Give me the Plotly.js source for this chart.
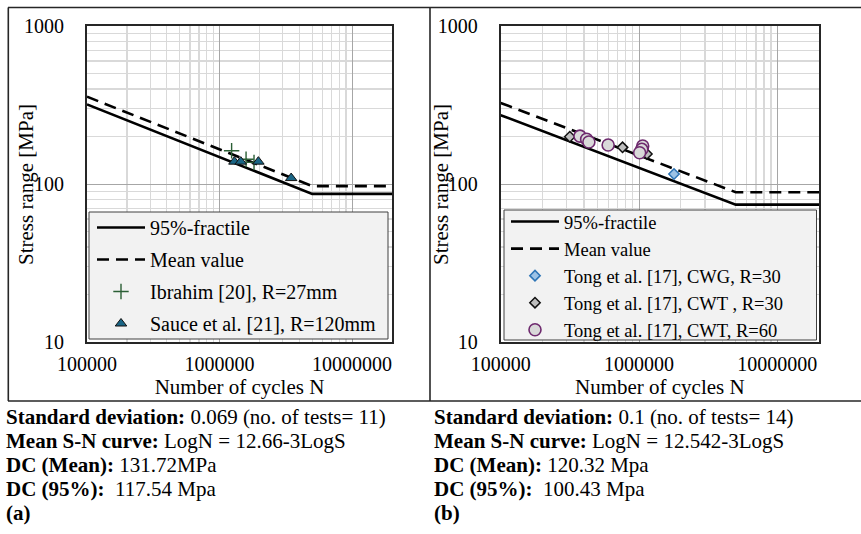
<!DOCTYPE html>
<html>
<head>
<meta charset="utf-8">
<script src="https://cdn.plot.ly/plotly-3.0.1.min.js"></script>
<style>
  html, body { margin: 0; padding: 0; background: #fff; }
  #chart { width: 861px; height: 534px; }
</style>
</head>
<body>
<div id="chart"></div>
<script>
// ---------- data ----------
const curveN = [1e5, 5e6, 2e7];

// panel (a)
const fractile95A = [319, 86.6, 86.6];
const meanA = [357, 97.0, 97.0];
const ibrahimN = [1.233e6, 1.585e6, 1.82e6];
const ibrahimS = [162.5, 143.3, 137];
const sauceN = [1.294e6, 1.446e6, 1.963e6, 3.47e6];
const sauceS = [138.5, 138.5, 138.5, 109];

// panel (b)
const fractile95B = [272.6, 74.0, 74.0];
const meanB = [326, 88.7, 88.7];
const cwg30N = [1.79e6];
const cwg30S = [115.7];
const cwt30N = [3.16e5, 7.6e5, 1.14e6];
const cwt30S = [199, 170.6, 155];
const cwt60N = [3.74e5, 4.18e5, 4.34e5, 5.98e5, 1.063e6, 1.047e6, 1.01e6];
const cwt60S = [201, 192, 184.5, 176.6, 174, 165.8, 157.8];

const xTickVals = [1e5, 1e6, 1e7];
const xTickText = ['100000', '1000000', '10000000'];
const yTickVals = [10, 100, 1000];
const yTickText = ['10', '100', '1000'];

const xTitle = 'Number of cycles N';
const yTitle = 'Stress range [MPa]';

const seriesNamesA = ['95%-fractile', 'Mean value', 'Ibrahim [20], R=27mm', 'Sauce et al. [21], R=120mm'];
const seriesNamesB = ['95%-fractile', 'Mean value', 'Tong et al. [17], CWG, R=30', 'Tong et al. [17], CWT , R=30', 'Tong et al. [17], CWT, R=60'];

const textA = [
  '<b>Standard deviation:</b> 0.069 (no. of tests= 11)',
  '<b>Mean S-N curve:</b> LogN = 12.66-3LogS',
  '<b>DC (Mean):</b> 131.72MPa',
  '<b>DC (95%):</b>  117.54 Mpa',
  '<b>(a)</b>'
];
const textB = [
  '<b>Standard deviation:</b> 0.1 (no. of tests= 14)',
  '<b>Mean S-N curve:</b> LogN = 12.542-3LogS',
  '<b>DC (Mean):</b> 120.32 Mpa',
  '<b>DC (95%):</b>  100.43 Mpa',
  '<b>(b)</b>'
];

// ---------- helpers ----------
const W = 861, H = 534;
const px = v => v / W;
const py = v => 1 - v / H;
const FONT = '"Liberation Serif", "Times New Roman", serif';

function minorVals(lo, hi) {
  const out = [];
  for (let d = lo; d < hi; d++) {
    for (let k = 2; k <= 9; k++) out.push(k * Math.pow(10, d));
  }
  return out;
}

function xAxis(domain, anchor) {
  return {
    type: 'log', range: [5, Math.log10(2e7)], domain: domain, anchor: anchor,
    tickmode: 'array', tickvals: xTickVals, ticktext: xTickText,
    ticks: '', ticklabelstandoff: 3,
    showgrid: true, gridcolor: '#a6a6a6', gridwidth: 1,
    minor: { tickmode: 'array', tickvals: minorVals(5, 8), showgrid: true, gridcolor: '#d9d9d9', gridwidth: 1.3, ticks: '' },
    showline: true, mirror: true, linecolor: '#262626', linewidth: 2,
    zeroline: false,
    tickfont: { family: FONT, size: 20, color: '#000' },
    title: { text: xTitle, font: { family: FONT, size: 21, color: '#000' }, standoff: 0 }
  };
}
function yAxis(anchor) {
  return {
    type: 'log', range: [1, 3], domain: [py(342), py(26)], anchor: anchor,
    tickmode: 'array', tickvals: yTickVals, ticktext: yTickText,
    ticks: '', ticklabelstandoff: 17,
    showgrid: true, gridcolor: '#a6a6a6', gridwidth: 1,
    minor: { tickmode: 'array', tickvals: minorVals(1, 3), showgrid: true, gridcolor: '#d9d9d9', gridwidth: 1.3, ticks: '' },
    showline: true, mirror: true, linecolor: '#262626', linewidth: 2,
    zeroline: false,
    tickfont: { family: FONT, size: 20, color: '#000' }
  };
}

const solid = { color: '#000', width: 2.6 };
const dashed = { color: '#000', width: 2.6, dash: '12px,7px' };

const traces = [
  // panel a
  { x: curveN, y: fractile95A, mode: 'lines', line: solid, name: seriesNamesA[0], xaxis: 'x', yaxis: 'y', legend: 'legend', legendgroup: 'a1' },
  { x: curveN, y: meanA, mode: 'lines', line: dashed, name: seriesNamesA[1], xaxis: 'x', yaxis: 'y', legend: 'legend', legendgroup: 'a2' },
  { x: ibrahimN, y: ibrahimS, mode: 'markers', name: seriesNamesA[2], xaxis: 'x', yaxis: 'y', legend: 'legend', legendgroup: 'a3',
    marker: { symbol: 'cross-thin', size: 11, line: { color: '#2b5f35', width: 1.4 } } },
  { x: sauceN, y: sauceS, mode: 'markers', name: seriesNamesA[3], xaxis: 'x', yaxis: 'y', legend: 'legend', legendgroup: 'a4',
    marker: { symbol: 'triangle-up', size: 10, color: '#1a6585', line: { color: '#111', width: 1 } } },
  // panel b
  { x: curveN, y: fractile95B, mode: 'lines', line: solid, name: seriesNamesB[0], xaxis: 'x2', yaxis: 'y2', legend: 'legend2' },
  { x: curveN, y: meanB, mode: 'lines', line: dashed, name: seriesNamesB[1], xaxis: 'x2', yaxis: 'y2', legend: 'legend2' },
  { x: cwg30N, y: cwg30S, mode: 'markers', name: seriesNamesB[2], xaxis: 'x2', yaxis: 'y2', legend: 'legend2',
    marker: { symbol: 'diamond', size: 8, color: '#9dc3e6', line: { color: '#2e75b6', width: 1.5 } } },
  { x: cwt30N, y: cwt30S, mode: 'markers', name: seriesNamesB[3], xaxis: 'x2', yaxis: 'y2', legend: 'legend2',
    marker: { symbol: 'diamond', size: 8, color: '#bfbfbf', line: { color: '#111', width: 1.5 } } },
  { x: cwt60N, y: cwt60S, mode: 'markers', name: seriesNamesB[4], xaxis: 'x2', yaxis: 'y2', legend: 'legend2',
    marker: { symbol: 'circle', size: 12, color: '#d9d9d9', line: { color: '#6e2a6e', width: 1.6 } } }
];

const shapes = [
  // outer frame + divider
  { type: 'line', xref: 'paper', yref: 'paper', x0: px(8), x1: 1.01, y0: py(7.5), y1: py(7.5), line: { color: '#262626', width: 1.6 } },
  { type: 'line', xref: 'paper', yref: 'paper', x0: px(8), x1: 1.01, y0: py(401), y1: py(401), line: { color: '#262626', width: 1.6 } },
  { type: 'line', xref: 'paper', yref: 'paper', x0: px(8.3), x1: px(8.3), y0: py(7.5), y1: py(401), line: { color: '#262626', width: 1.6 } },
  { type: 'line', xref: 'paper', yref: 'paper', x0: px(430), x1: px(430), y0: py(7.5), y1: py(401), line: { color: '#262626', width: 1.6 } },
  // legend boxes
  { type: 'rect', xref: 'paper', yref: 'paper', layer: 'above', x0: px(89), x1: px(388), y0: py(339), y1: py(212),
    fillcolor: '#f2f2f2', line: { color: '#404040', width: 1 } },
  { type: 'rect', xref: 'paper', yref: 'paper', layer: 'above', x0: px(504), x1: px(816.5), y0: py(340), y1: py(210),
    fillcolor: '#f2f2f2', line: { color: '#404040', width: 1 } }
];

const annotations = [];
// y-axis titles
[26, 441].forEach(cx => annotations.push({
  xref: 'paper', yref: 'paper', x: px(cx), y: py(185), xanchor: 'center', yanchor: 'middle',
  text: yTitle, textangle: -90, showarrow: false, font: { family: FONT, size: 21, color: '#000' }
}));
textA.forEach((t, i) => annotations.push({
  xref: 'paper', yref: 'paper', x: px(4), y: py(417 + 24 * i), xanchor: 'left', yanchor: 'middle',
  text: t, showarrow: false, font: { family: FONT, size: 21, color: '#000' }
}));
textB.forEach((t, i) => annotations.push({
  xref: 'paper', yref: 'paper', x: px(432), y: py(417 + 24 * i), xanchor: 'left', yanchor: 'middle',
  text: t, showarrow: false, font: { family: FONT, size: 21, color: '#000' }
}));

const layout = {
  width: W, height: H,
  margin: { l: 0, r: 0, t: 0, b: 0 },
  paper_bgcolor: '#fff', plot_bgcolor: '#fff',
  font: { family: FONT, color: '#000' },
  xaxis: xAxis([px(87), px(392)], 'y'),
  yaxis: yAxis('x'),
  xaxis2: xAxis([px(500.7), px(819)], 'y2'),
  yaxis2: yAxis('x2'),
  legend: {
    x: px(92), y: py(208), xanchor: 'left', yanchor: 'top',
    bgcolor: 'rgba(0,0,0,0)', borderwidth: 0, itemwidth: 48, tracegroupgap: 3,
    font: { family: FONT, size: 20, color: '#000' }
  },
  legend2: {
    x: px(506), y: py(203), xanchor: 'left', yanchor: 'top',
    bgcolor: 'rgba(0,0,0,0)', borderwidth: 0, itemwidth: 48,
    font: { family: FONT, size: 18.5, color: '#000' }
  },
  shapes: shapes,
  annotations: annotations,
  showlegend: true
};

Plotly.newPlot('chart', traces, layout, { displayModeBar: false, staticPlot: true });
</script>
</body>
</html>
